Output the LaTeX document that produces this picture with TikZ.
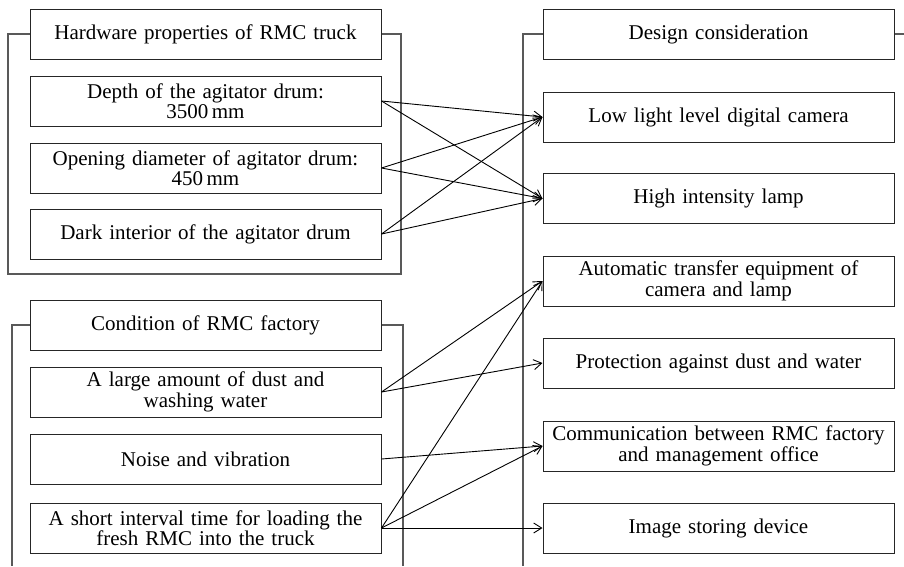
\documentclass[tikz,border=0pt]{standalone}
\usepackage{fontspec}
\setmainfont{Liberation Serif}
\usetikzlibrary{arrows.meta}
\begin{document}
\begin{tikzpicture}[x=1pt,y=-1pt,
  box/.style={draw=black!85,line width=1pt,minimum width=351pt,minimum height=50pt,
    text width=349pt,align=center,inner sep=0pt,
    font=\fontsize{21}{20.5}\selectfont},
  group/.style={draw=black!65,line width=1.6pt},
  link/.style={-{Straight Barb[length=8pt,width=10pt]},line width=0.9pt}]
  \useasboundingbox (0,0) rectangle (904,566);
  % Hardware properties
  \node[box] (hw) at (205.5,34) {Hardware properties of RMC truck};
  \node[box] (depth) at (205.5,101) {Depth of the agitator drum:\\3500\,mm};
  \node[box] (open) at (205.5,168) {Opening diameter of agitator drum:\\450\,mm};
  \node[box] (dark) at (205.5,234) {Dark interior of the agitator drum};
  \draw[group] (hw.west) -- (8,34) -- (8,274) -- (401,274) -- (401,34) -- (hw.east);
  % Condition of factory
  \node[box] (fac) at (205.5,325) {Condition of RMC factory};
  \node[box] (dust) at (205.5,392) {A large amount of dust and\\washing water};
  \node[box] (noise) at (205.5,459) {Noise and vibration};
  \node[box] (short) at (205.5,528) {A short interval time for loading the\\fresh RMC into the truck};
  \draw[group] (fac.west) -- (12,325) -- (12,566);
  \draw[group] (fac.east) -- (403,325) -- (403,566);
  % Design consideration
  \node[box] (des) at (718.5,34) {Design consideration};
  \node[box] (cam) at (718.5,117) {Low light level digital camera};
  \node[box] (lamp) at (718.5,198.5) {High intensity lamp};
  \node[box] (auto) at (718.5,281) {Automatic transfer equipment of\\camera and lamp};
  \node[box] (prot) at (718.5,363) {Protection against dust and water};
  \node[box] (comm) at (718.5,446) {Communication between RMC factory\\and management office};
  \node[box] (img) at (718.5,528) {Image storing device};
  \draw[group] (des.west) -- (523,34) -- (523,566);
  \draw[group] (des.east) -- (904,34);
  % Links
  \foreach \a in {depth,open,dark} {
    \draw[link] (\a.east) -- (cam.west);
    \draw[link] (\a.east) -- (lamp.west);
  }
  \draw[link] (dust.east) -- (auto.west);
  \draw[link] (dust.east) -- (prot.west);
  \draw[link] (noise.east) -- (comm.west);
  \foreach \b in {auto,comm,img}
    \draw[link] (short.east) -- (\b.west);
\end{tikzpicture}
\end{document}
